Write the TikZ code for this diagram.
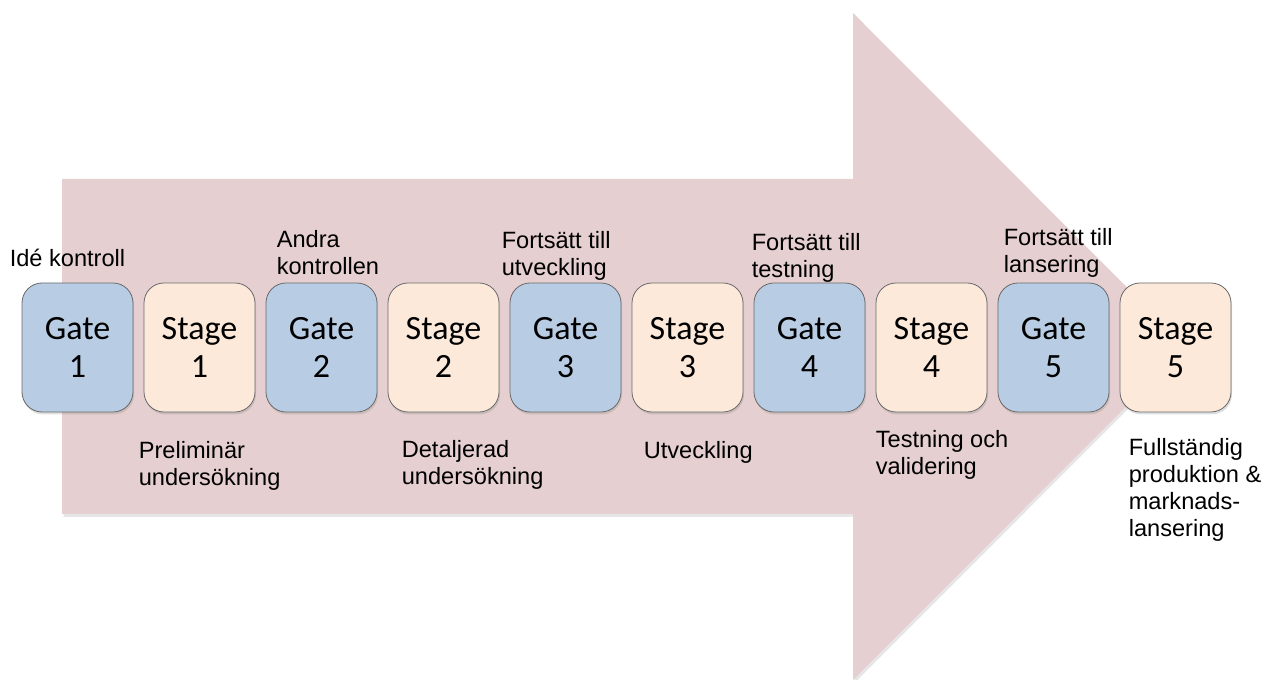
\documentclass[tikz,border=0pt]{standalone}
\usepackage{fontspec}
\usepackage{tikz}
\usetikzlibrary{positioning, calc, shadows}
\newfontfamily\boxfont{Carlito}
\newfontfamily\lblfont{Liberation Sans}
\definecolor{tpink}{RGB}{230,207,208}
\definecolor{gblue}{RGB}{184,204,228}
\definecolor{speach}{RGB}{252,233,218}
\definecolor{bgray}{RGB}{105,105,105}

\begin{document}
\begin{tikzpicture}[x=1pt, y=1pt,
        gate/.style={draw=bgray, line width=0.8pt, rounded corners=20pt, minimum width=111pt, minimum height=129pt, align=center, inner sep=0pt, fill=gblue, font=\boxfont\fontsize{34}{38}\selectfont, drop shadow={opacity=0.25, shadow xshift=1pt, shadow yshift=-2.5pt}},
        stage/.style={gate, fill=speach},
        lbl/.style={anchor=north west, align=left, inner sep=0pt, font=\lblfont\fontsize{23.6}{27}\selectfont},
        node distance=10.2pt]
      \useasboundingbox (0,0) rectangle (1267,680);
      \fill[tpink, drop shadow={opacity=0.2, shadow xshift=1.5pt, shadow yshift=-3pt}] (62,501) -- (853,501) -- (853,667) -- (1186,333.5) -- (853,0) -- (853,166) -- (62,166) -- cycle;

      \node[gate] (g1) at (77.5,332.5) {Gate\\1};
      \node[stage, right=of g1] (s1) {Stage\\1};
      \node[gate, right=of s1] (g2) {Gate\\2};
      \node[stage, right=of g2] (s2) {Stage\\2};
      \node[gate, right=of s2] (g3) {Gate\\3};
      \node[stage, right=of g3] (s3) {Stage\\3};
      \node[gate, right=of s3] (g4) {Gate\\4};
      \node[stage, right=of g4] (s4) {Stage\\4};
      \node[gate, right=of s4] (g5) {Gate\\5};
      \node[stage, right=of g5] (s5) {Stage\\5};

      \node[lbl] (t1) at ($(g1.north west)+(-12,34)$) {Idé kontroll};
      \node[lbl] (t2) at ($(g2.north west)+(11,52)$) {Andra\\kontrollen};
      \node[lbl] (t3) at ($(g3.north west)+(-8,51)$) {Fortsätt till\\utveckling};
      \node[lbl] (t4) at ($(g4.north west)+(-2,49)$) {Fortsätt till\\testning};
      \node[lbl] (t5) at ($(g5.north west)+(6,54)$) {Fortsätt till\\lansering};

      \node[lbl] (b1) at ($(s1.south west)+(-5,-29)$) {Preliminär\\undersökning};
      \node[lbl] (b2) at ($(s2.south west)+(14,-28)$) {Detaljerad\\undersökning};
      \node[lbl] (b3) at ($(s3.south west)+(12,-29)$) {Utveckling};
      \node[lbl] (b4) at ($(s4.south west)+(0,-18)$) {Testning och\\validering};
      \node[lbl] (b5) at ($(s5.south west)+(9,-26)$) {Fullständig\\produktion \&\\marknads-\\lansering};
    \end{tikzpicture}
\end{document}
